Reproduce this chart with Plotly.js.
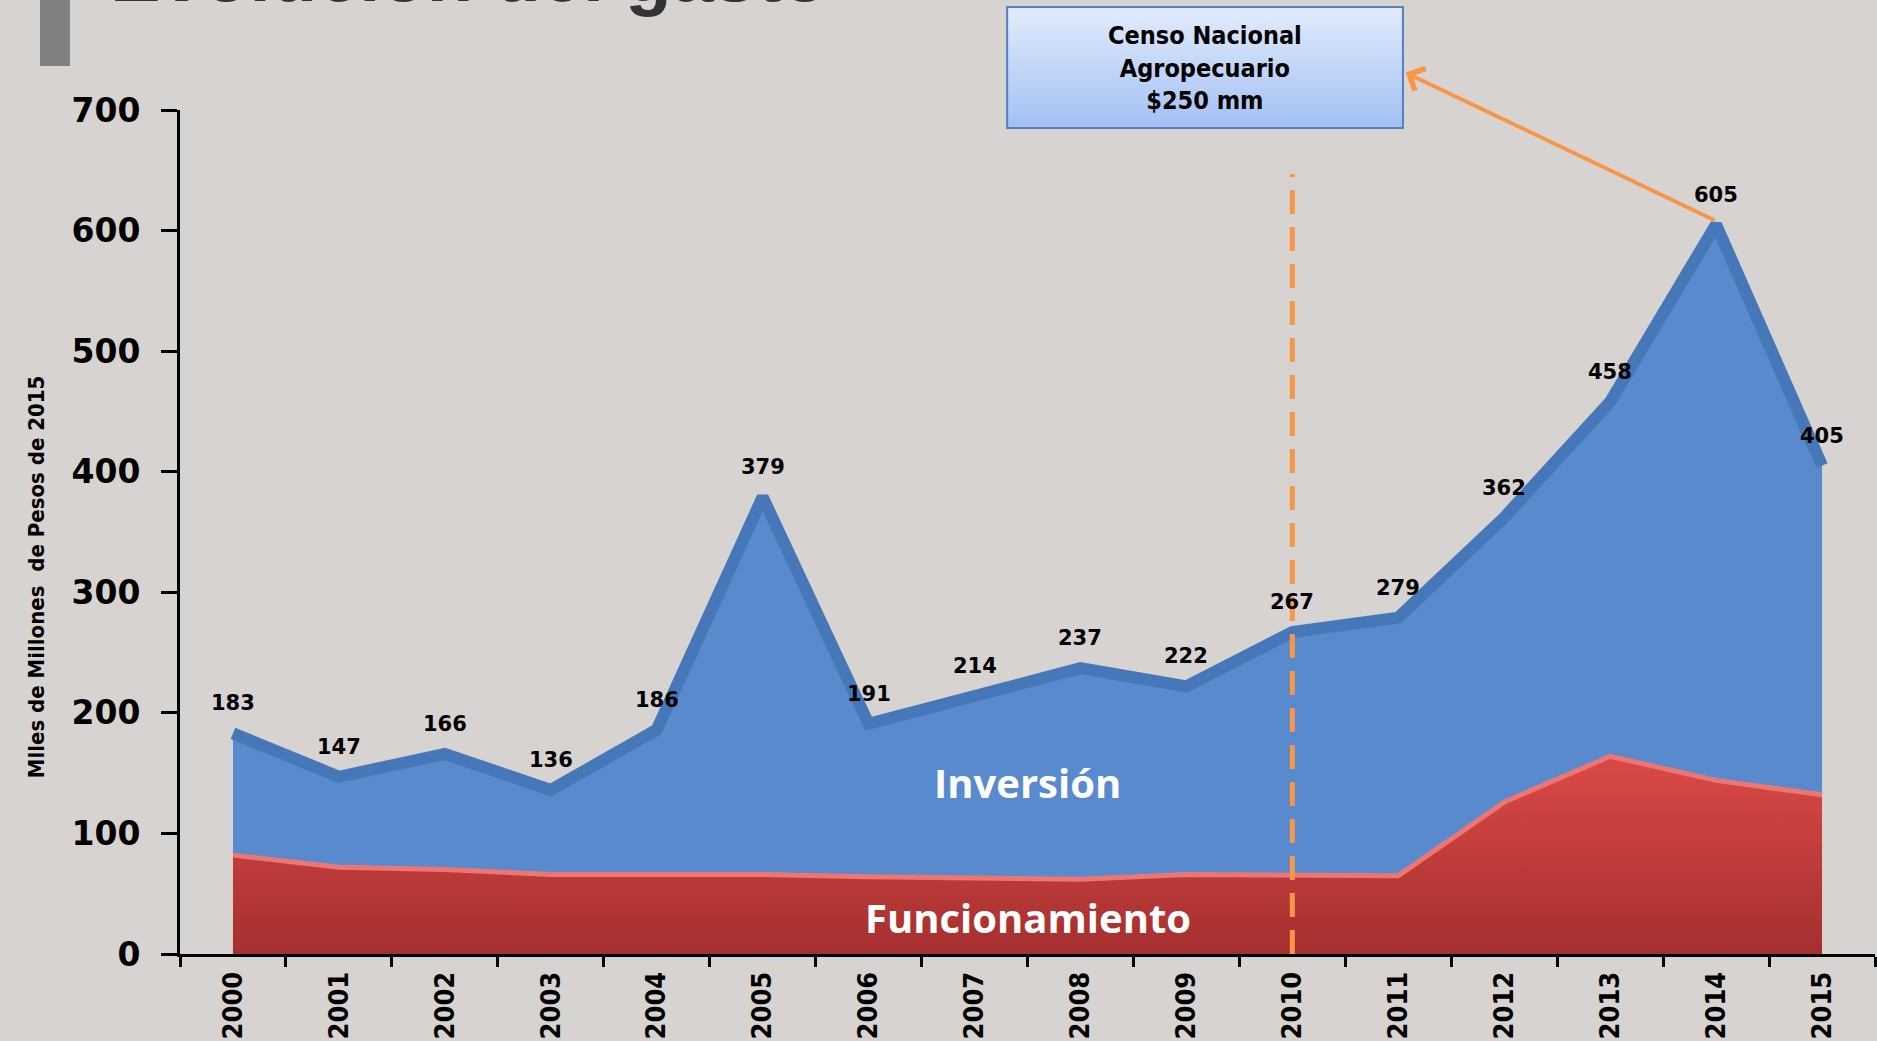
<!DOCTYPE html>
<html>
<head>
<meta charset="utf-8">
<script src="https://cdn.plot.ly/plotly-3.0.1.min.js"></script>
<style>
  html, body { margin: 0; padding: 0; background: #d6d3d0; }
  #chart { width: 1877px; height: 1041px; }
</style>
</head>
<body>
<div id="chart"></div>
<script>
/* Evolución del gasto — stacked area (Funcionamiento + Inversión), 2000-2015 */

const YEARS = ["2000", "2001", "2002", "2003", "2004", "2005", "2006", "2007",
               "2008", "2009", "2010", "2011", "2012", "2013", "2014", "2015"];

// total spend (top of the blue area), labelled on the chart
const TOTAL = [183, 147, 166, 136, 186, 379, 191, 214, 237, 222, 267, 279, 362, 458, 605, 405];

// Funcionamiento (red area)
const FUNCIONAMIENTO = [82, 72, 70, 66, 66, 66, 64, 63, 62, 66, 66, 65, 126, 164, 144, 132];

const Y_TICKS = [0, 100, 200, 300, 400, 500, 600, 700];

// dashed marker at the census year
const CENSO_YEAR = "2010";
const CENSO_LINE_Y = [0, 647];

const BOX_LINES = ["Censo Nacional", "Agropecuario", "$250 mm"];

const ORANGE = "#f79646";
const HEAVY = "DejaVu Sans, Verdana, sans-serif";
const NARROW = "Liberation Sans Narrow, DejaVu Sans Condensed, sans-serif";

/* -------------------------------
   Traces
   ------------------------------- */

const traceFunc = {
  x: YEARS,
  y: FUNCIONAMIENTO,
  type: "scatter",
  mode: "lines",
  name: "Funcionamiento",
  line: { color: "#ec7772", width: 5 },
  fill: "tozeroy",
  fillgradient: {
    type: "vertical",
    colorscale: [[0, "#a52f2f"], [1, "#da4a47"]]
  },
  hoverinfo: "x+y"
};

const traceTotal = {
  x: YEARS,
  y: TOTAL,
  type: "scatter",
  mode: "lines",
  name: "Inversión",
  line: { color: "#4677b9", width: 12 },
  fill: "tonexty",
  fillcolor: "#588acd",
  hoverinfo: "x+y"
};

const traceCenso = {
  x: [CENSO_YEAR, CENSO_YEAR],
  y: CENSO_LINE_Y,
  type: "scatter",
  mode: "lines",
  line: { color: ORANGE, width: 5, dash: "24px,13px" },
  hoverinfo: "skip"
};

/* -------------------------------
   Annotations
   ------------------------------- */

// category axis: annotation x is the category index
const valueLabels = YEARS.map((yr, i) => ({
  x: i,
  y: TOTAL[i],
  xref: "x",
  yref: "y",
  text: String(TOTAL[i]),
  showarrow: false,
  yanchor: "middle",
  yshift: 30,
  font: { family: HEAVY, size: 21, color: "#000", weight: "bold" }
}));

const peak = YEARS.indexOf("2014");

const annotations = valueLabels.concat([
  // slide title, mostly cut off by the top edge
  {
    xref: "paper", yref: "paper", x: -0.0425, y: 1.1078,
    xanchor: "left", yanchor: "bottom",
    text: "Evolución del gasto", showarrow: false,
    font: { family: "Liberation Sans, Arial, sans-serif", size: 76, color: "#333333", weight: "bold" }
  },
  // y axis title
  {
    xref: "paper", yref: "paper", x: -0.0932, y: 0.447,
    text: "Mlles de Millones  de Pesos de 2015", textangle: -90, showarrow: false,
    font: { family: NARROW, size: 22, color: "#000", weight: "bold" }
  },
  // area names
  {
    xref: "paper", yref: "y", x: 0.5, y: 142,
    text: "Inversión", showarrow: false,
    font: { family: "Open Sans, sans-serif", size: 40, color: "#ffffff", weight: "bold" }
  },
  {
    xref: "paper", yref: "y", x: 0.5, y: 30,
    text: "Funcionamiento", showarrow: false,
    font: { family: "Open Sans, sans-serif", size: 40, color: "#ffffff", weight: "bold" }
  },
  // census box text
  {
    xref: "paper", yref: "paper", x: 0.6048, y: 1.0503,
    xanchor: "center", yanchor: "middle",
    text: BOX_LINES.join("<br>"), showarrow: false, align: "center",
    font: { family: "DejaVu Sans Condensed, DejaVu Sans, sans-serif", size: 25, color: "#000", weight: "bold" }
  },
  // arrow from the 2014 peak to the box
  {
    xref: "x", yref: "y", x: 11.07, y: 731,
    axref: "x", ayref: "y", ax: peak, ay: TOTAL[peak] + 3,
    text: "", showarrow: true,
    arrowhead: 4, arrowsize: 1.2, arrowwidth: 4, arrowcolor: ORANGE, standoff: 0
  }
]);

const boxGradient = "data:image/svg+xml;charset=utf-8," + encodeURIComponent(
  '<svg xmlns="http://www.w3.org/2000/svg" width="100" height="100" preserveAspectRatio="none">' +
  '<defs><linearGradient id="g" x1="0" y1="0" x2="0" y2="1">' +
  '<stop offset="0" stop-color="#e2ecfc"/><stop offset="1" stop-color="#a3c0f3"/>' +
  '</linearGradient></defs><rect width="100" height="100" fill="url(#g)"/></svg>'
);

const layout = {
  width: 1877,
  height: 1041,
  autosize: false,
  showlegend: false,
  margin: { l: 180, r: 2, t: 110, b: 87 },
  paper_bgcolor: "#d6d3d0",
  plot_bgcolor: "rgba(0,0,0,0)",
  xaxis: {
    type: "category",
    range: [-0.5, 15.5],
    showgrid: false,
    zeroline: false,
    showline: true,
    linecolor: "#000",
    linewidth: 3,
    ticks: "outside",
    tickson: "boundaries",
    ticklen: 10,
    tickwidth: 3,
    tickcolor: "#000",
    tickangle: -90,
    ticklabelstandoff: 4,
    tickfont: { family: NARROW, size: 27, color: "#000", weight: "bold" }
  },
  yaxis: {
    range: [0, 700],
    tickvals: Y_TICKS,
    showgrid: false,
    zeroline: false,
    showline: true,
    linecolor: "#000",
    linewidth: 3,
    ticks: "outside",
    ticklen: 16,
    tickwidth: 3,
    tickcolor: "#000",
    ticklabelstandoff: 14,
    tickfont: { family: HEAVY, size: 33, color: "#000", weight: "bold" }
  },
  shapes: [
    // grey bar next to the title
    {
      type: "rect", xref: "paper", yref: "paper",
      x0: -0.0826, x1: -0.0649, y0: 1.0521, y1: 1.2,
      fillcolor: "#808080", line: { width: 0 }
    },
    // census box border
    {
      type: "rect", xref: "paper", yref: "paper", layer: "above",
      x0: 0.488, x1: 0.7215, y0: 0.9787, y1: 1.122,
      fillcolor: "rgba(0,0,0,0)", line: { color: "#4f81c4", width: 2 }
    }
  ],
  images: [
    {
      source: boxGradient, xref: "paper", yref: "paper",
      x: 0.488, y: 1.122, sizex: 0.2335, sizey: 0.1433,
      xanchor: "left", yanchor: "top", sizing: "stretch", layer: "above"
    }
  ],
  annotations: annotations
};

Plotly.newPlot("chart", [traceFunc, traceTotal, traceCenso], layout, { displayModeBar: false, staticPlot: true });
</script>
</body>
</html>
